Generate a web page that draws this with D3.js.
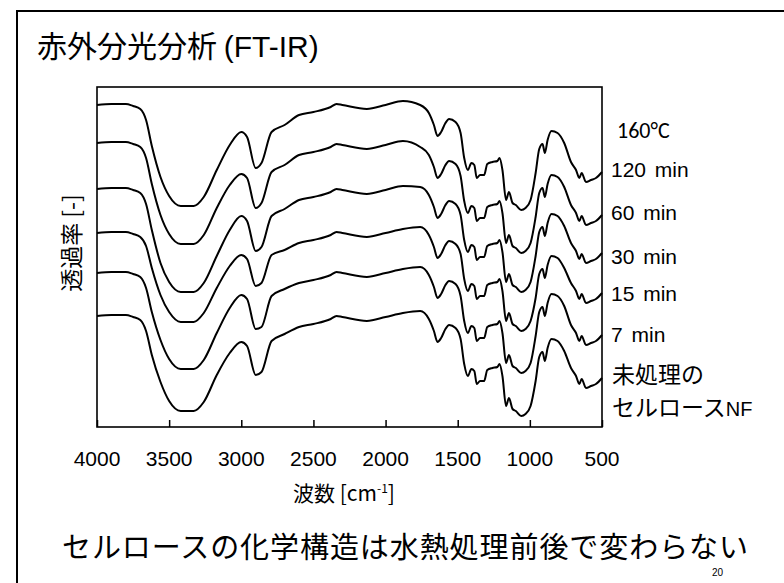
<!DOCTYPE html>
<html>
<head>
<meta charset="utf-8">
<script src="https://cdn.jsdelivr.net/npm/d3@7"></script>
<style>
  body { margin: 0; background: #fff; }
  svg { display: block; }
  text { font-family: "Liberation Sans", Arial, sans-serif; fill: #000; }
  .jp { font-family: "Noto Sans CJK JP", sans-serif; }
</style>
</head>
<body>
<svg id="chart" width="784" height="583"></svg>
<script>
// wavenumber (cm-1) shared by all spectra
var wavenumbers = [4000, 3900, 3800, 3750, 3700, 3660, 3620, 3560, 3500, 3420, 3330, 3260, 3170, 3080,
  3000, 2960, 2900, 2860, 2790, 2700, 2600, 2500, 2380, 2340, 2300, 2130, 2000, 1880, 1760, 1700,
  1665, 1640, 1615, 1585, 1560, 1515, 1480, 1455, 1430, 1405, 1385, 1368, 1345, 1317, 1295, 1260,
  1225, 1210, 1190, 1165, 1145, 1120, 1097, 1060, 1030, 995, 960, 935, 912, 896, 877, 850, 808,
  762, 715, 680, 657, 641, 611, 576, 542, 500];

// transmittance, arbitrary units (stacked spectra)
var t120 = [322, 323, 323, 321, 318, 307, 281, 250, 231, 221, 221, 230, 257, 282, 295, 290, 259, 264,
  295, 302, 312, 315, 320, 323, 322, 318, 322, 326, 322, 314, 302, 291, 295, 304, 308, 305, 294, 269,
  257, 264, 262, 249, 252, 252, 263, 265, 266, 269, 257, 227, 235, 224, 222, 217, 219, 227, 254, 278,
  283, 274, 287, 296, 294, 284, 265, 257, 249, 254, 245, 247, 249, 255];
var t60 = [284, 285, 285, 283, 280, 269, 243, 212, 193, 183, 183, 192, 219, 242, 253, 249, 219, 224,
  255, 262, 272, 275, 280, 283, 282, 278, 282, 286, 280, 272, 260, 249, 253, 262, 266, 263, 251, 226,
  214, 221, 219, 206, 209, 209, 220, 222, 223, 226, 214, 184, 192, 181, 179, 174, 176, 184, 210, 234,
  239, 230, 243, 252, 250, 240, 222, 214, 206, 211, 202, 204, 206, 212];
var t30 = [238, 239, 239, 237, 234, 223, 197, 164, 145, 135, 135, 144, 171, 197, 211, 206, 176, 180,
  211, 218, 227, 230, 235, 238, 237, 233, 237, 241, 240, 232, 220, 209, 213, 222, 226, 223, 212, 187,
  175, 182, 180, 167, 170, 170, 181, 183, 184, 187, 175, 145, 153, 142, 140, 135, 137, 145, 171, 195,
  200, 191, 204, 213, 211, 201, 184, 176, 168, 173, 164, 166, 168, 174];
var t15 = [194, 195, 195, 193, 190, 181, 159, 132, 115, 105, 105, 114, 139, 161, 172, 168, 141, 144,
  172, 177, 184, 187, 192, 195, 194, 190, 194, 198, 200, 192, 180, 169, 173, 182, 186, 183, 173, 148,
  136, 143, 141, 128, 131, 131, 142, 144, 145, 148, 136, 106, 114, 103, 101, 96, 98, 106, 129, 153,
  158, 149, 162, 171, 169, 159, 144, 136, 128, 133, 124, 126, 128, 134];
var t7 = [154, 155, 155, 153, 150, 139, 115, 87, 68, 58, 58, 67, 94, 119, 132, 128, 98, 100,
  131, 138, 144, 147, 152, 155, 154, 150, 154, 158, 160, 152, 140, 129, 133, 142, 146, 143, 131, 106,
  94, 101, 99, 86, 89, 89, 100, 102, 103, 106, 94, 64, 72, 61, 59, 54, 56, 64, 91, 115,
  120, 111, 124, 133, 131, 121, 102, 94, 86, 91, 82, 84, 86, 92];
var tRaw = [111, 112, 112, 110, 107, 96, 72, 45, 26, 16, 16, 25, 52, 74, 85, 81, 52, 55,
  86, 93, 100, 103, 108, 111, 110, 106, 110, 114, 116, 108, 96, 85, 89, 98, 102, 99, 88, 63,
  51, 58, 56, 43, 46, 46, 57, 59, 60, 63, 51, 21, 29, 18, 16, 11, 13, 21, 46, 70,
  75, 66, 79, 88, 86, 76, 59, 51, 43, 48, 39, 41, 43, 49];

var seriesNames = ["120 min", "60 min", "30 min", "15 min", "7 min", "未処理の|セルロースNF"];
var seriesValues = [t120, t60, t30, t15, t7, tRaw];
var xTicks = [4000, 3500, 3000, 2500, 2000, 1500, 1000, 500];

var svg = d3.select("#chart");

// slide frame
svg.append("rect")
   .attr("x", 17).attr("y", 11)
   .attr("width", 800).attr("height", 600)
   .attr("fill", "none").attr("stroke", "#000").attr("stroke-width", 2);

svg.append("text").attr("class", "jp")
   .attr("x", 37).attr("y", 57)
   .attr("font-size", 30)
   .attr("fill", "#111")
   .text("赤外分光分析 ")
   .append("tspan")
   .style("font-family", "'Liberation Sans', Arial, sans-serif")
   .text("(FT-IR)");

var plotL = 97, plotR = 602, plotT = 87, plotB = 427;

var x = d3.scaleLinear().domain([4000, 500]).range([plotL, plotR]);
var y = d3.scaleLinear().domain([0, 340]).range([plotB, plotT]);

// plot box
svg.append("rect")
   .attr("x", plotL).attr("y", plotT)
   .attr("width", plotR - plotL).attr("height", plotB - plotT)
   .attr("fill", "none").attr("stroke", "#000").attr("stroke-width", 1.6);

// x axis, ticks pointing inward
var xAxis = d3.axisTop(x).tickValues(xTicks).tickSize(7).tickFormat("");
var gx = svg.append("g").attr("transform", "translate(0," + plotB + ")").call(xAxis);
gx.select(".domain").remove();
gx.selectAll("line").attr("stroke", "#000").attr("stroke-width", 1.5);

svg.selectAll(".xlab")
   .data(xTicks)
   .enter()
   .append("text")
   .attr("class", "xlab")
   .attr("x", function(d) { return x(d); })
   .attr("y", 466)
   .attr("text-anchor", "middle")
   .attr("font-size", 21)
   .text(function(d) { return d; });

var xt = svg.append("text").attr("class", "jp")
   .attr("x", 344).attr("y", 501)
   .attr("text-anchor", "middle")
   .attr("font-size", 21)
   .attr("fill", "#333")
   .text("波数 [cm");
xt.append("tspan").attr("font-size", 12).attr("dy", -8).text("-1");
xt.append("tspan").attr("dy", 8).text("]");

svg.append("text").attr("class", "jp")
   .attr("transform", "translate(80,243) rotate(-90)")
   .attr("text-anchor", "middle")
   .attr("font-size", 23)
   .attr("fill", "#333")
   .text("透過率 [-]");

// spectra
var line = d3.line()
   .x(function(d) { return x(d[0]); })
   .y(function(d) { return y(d[1]); })
   .curve(d3.curveMonotoneX);

svg.selectAll(".spec")
   .data(seriesValues)
   .enter()
   .append("path")
   .attr("class", "spec")
   .attr("fill", "none")
   .attr("stroke", "#000")
   .attr("stroke-width", 2)
   .attr("stroke-linejoin", "round")
   .attr("d", function(vals) {
     return line(vals.map(function(v, i) { return [wavenumbers[i], v]; }));
   });

// labels on the right
svg.append("text")
   .attr("x", 617).attr("y", 138)
   .attr("font-size", 22)
   .style("font-family", "Carlito, 'Liberation Sans', sans-serif")
   .text("160°C");

var labelY = [177, 220, 264, 301, 342];
seriesNames.slice(0, 5).forEach(function(name, i) {
  svg.append("text")
     .attr("x", 611).attr("y", labelY[i])
     .attr("font-size", 21)
     .attr("word-spacing", 3)
     .text(name);
});

var rawLab = seriesNames[5].split("|");
svg.append("text").attr("class", "jp")
   .attr("x", 612).attr("y", 383)
   .attr("font-size", 23).attr("fill", "#333")
   .text(rawLab[0]);
svg.append("text").attr("class", "jp")
   .attr("x", 612).attr("y", 416)
   .attr("font-size", 23).attr("fill", "#333")
   .text(rawLab[1].replace("NF", ""))
   .append("tspan")
   .style("font-family", "'Liberation Sans', Arial, sans-serif")
   .attr("font-size", 20)
   .attr("fill", "#000")
   .text("NF");

svg.append("text").attr("class", "jp")
   .attr("x", 62).attr("y", 558)
   .attr("font-size", 29)
   .attr("fill", "#333")
   .attr("textLength", 686)
   .attr("lengthAdjust", "spacing")
   .text("セルロースの化学構造は水熱処理前後で変わらない");

svg.append("text")
   .attr("x", 712).attr("y", 576)
   .attr("font-size", 10)
   .attr("fill", "#888")
   .text("20");
</script>
</body>
</html>
